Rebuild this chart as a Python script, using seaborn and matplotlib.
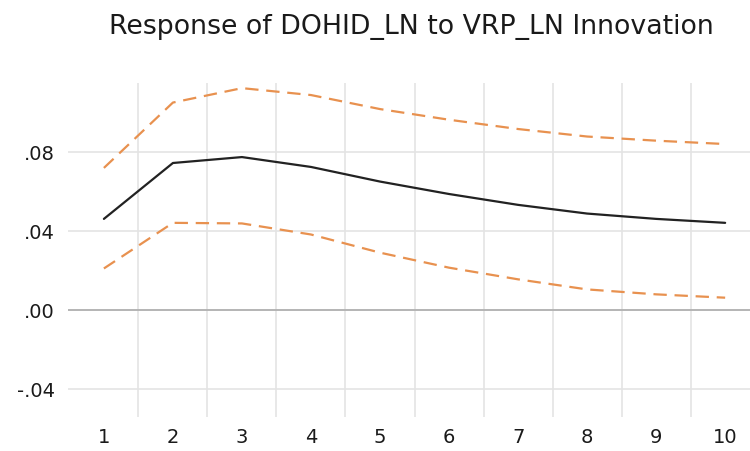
import matplotlib
matplotlib.use("Agg")
import matplotlib.pyplot as plt
import seaborn as sns
import pandas as pd

periods = [1, 2, 3, 4, 5, 6, 7, 8, 9, 10]
response = [0.0463, 0.0746, 0.0776, 0.0726, 0.0652, 0.0589, 0.0534, 0.0490, 0.0463, 0.0443]
upper = [0.0721, 0.1052, 0.1125, 0.1090, 0.1019, 0.0965, 0.0918, 0.0880, 0.0859, 0.0842]
lower = [0.0212, 0.0443, 0.0440, 0.0384, 0.0292, 0.0216, 0.0157, 0.0106, 0.0081, 0.0064]
ytick_vals = [-0.04, 0.00, 0.04, 0.08]
ytick_labels = ["-.04", ".00", ".04", ".08"]
title = "Response of DOHID_LN to VRP_LN Innovation"

sns.set_theme(style="white")
plt.rcParams['font.family'] = ['DejaVu Sans']

df = pd.DataFrame({"period": periods, "response": response, "upper": upper, "lower": lower})

fig = plt.figure(figsize=(7.5, 4.51), dpi=100)
ax = fig.add_axes([68/750, 1 - 417/451, (750-68)/750, (417-83)/451])

# grid
for xv in [p + 0.5 for p in periods[:-1]]:
    ax.axvline(xv, color="#e4e4e4", lw=1.2, zorder=0)
for yv in ytick_vals:
    if yv == 0:
        ax.axhline(yv, color="#b4b4b4", lw=1.4, zorder=0)
    else:
        ax.axhline(yv, color="#e4e4e4", lw=1.2, zorder=0)

orange = "#E8914F"
sns.lineplot(data=df, x="period", y="upper", ax=ax, color=orange, lw=1.6,
             linestyle=(0, (6, 3.5)))
sns.lineplot(data=df, x="period", y="lower", ax=ax, color=orange, lw=1.6,
             linestyle=(0, (6, 3.5)))
sns.lineplot(data=df, x="period", y="response", ax=ax, color="#222222", lw=1.6)

ax.set_xlim(0.48, 10.36)
ax.set_ylim(-0.054, 0.1151)
ax.set_xticks(periods)
ax.set_xticklabels([str(p) for p in periods])
ax.set_yticks(ytick_vals)
ax.set_yticklabels(ytick_labels)
ax.set_xlabel("")
ax.set_ylabel("")
for s in ax.spines.values():
    s.set_visible(False)
ax.tick_params(axis="both", length=0, labelsize=14, colors="#1a1a1a")
ax.tick_params(axis="x", pad=8)
ax.tick_params(axis="y", pad=9.4)

fig.text(411.5/750, 1 - 34.3/451, title, ha="center", va="baseline", fontsize=19.3, color="#1a1a1a")

fig.savefig("out.png", dpi=100)
